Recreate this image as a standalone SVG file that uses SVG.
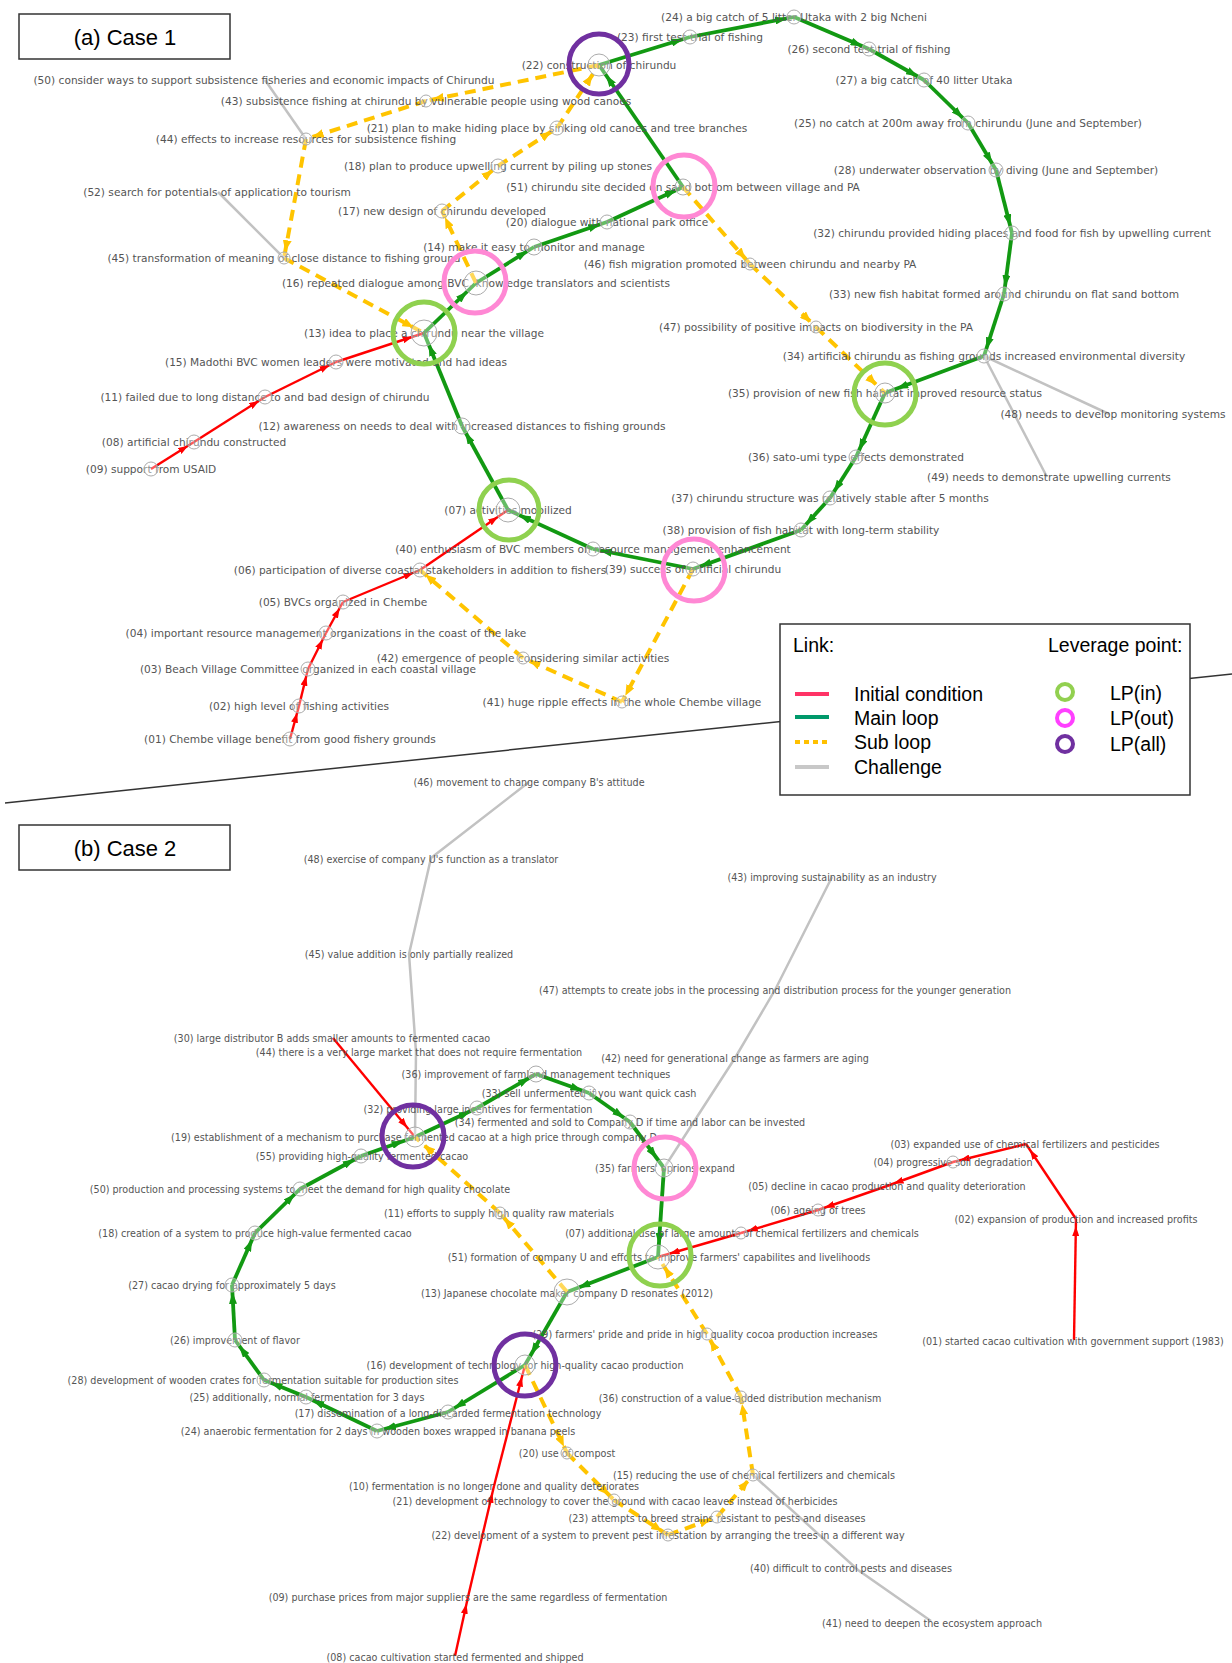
<svg xmlns="http://www.w3.org/2000/svg" width="1232" height="1663" viewBox="0 0 1232 1663">
<style>
.t1{font-family:"DejaVu Sans",sans-serif;font-size:10.6px;fill:#555;text-anchor:middle;dominant-baseline:central}
.t2{font-family:"DejaVu Sans",sans-serif;font-size:9.6px;fill:#555;text-anchor:middle;dominant-baseline:central}
.nd{fill:#fff;fill-opacity:.35;stroke:#ababab;stroke-width:1}
.red{stroke:#ff0000;stroke-width:2.4;fill:none;marker-end:url(#mr)}
.red.L{marker-end:url(#mrL)}
.grn{stroke:#129912;stroke-width:3.8;fill:none;marker-end:url(#mg)}
.grn.L{marker-end:url(#mgL)}
.yel{stroke:#ffc400;stroke-width:4;fill:none;stroke-dasharray:11 7;marker-end:url(#my)}
.yel.L{marker-end:url(#myL)}
.gry{stroke:#c2c2c2;stroke-width:2.5;fill:none}
.lpin{fill:none;stroke:#8fd14f;stroke-width:5}
.lpout{fill:none;stroke:#ff88d4;stroke-width:5}
.lpall{fill:none;stroke:#7030a0;stroke-width:5}
.ttl{font-family:"Liberation Sans",Arial,sans-serif;font-size:22px;fill:#000;text-anchor:middle}
.lg{font-family:"Liberation Sans",Arial,sans-serif;font-size:19.5px;fill:#000}
.box{fill:#fff;stroke:#333;stroke-width:1.5}
</style>
<defs>
<marker id="mg" markerUnits="userSpaceOnUse" markerWidth="12" markerHeight="8" refX="19" refY="4" orient="auto"><path d="M0,0 L12,4 L0,8 z" fill="#129912"/></marker>
<marker id="mgL" markerUnits="userSpaceOnUse" markerWidth="12" markerHeight="8" refX="24" refY="4" orient="auto"><path d="M0,0 L12,4 L0,8 z" fill="#129912"/></marker>
<marker id="mr" markerUnits="userSpaceOnUse" markerWidth="10" markerHeight="7" refX="17" refY="3.5" orient="auto"><path d="M0,0 L10,3.5 L0,7 z" fill="#ff0000"/></marker>
<marker id="mrL" markerUnits="userSpaceOnUse" markerWidth="10" markerHeight="7" refX="22" refY="3.5" orient="auto"><path d="M0,0 L10,3.5 L0,7 z" fill="#ff0000"/></marker>
<marker id="my" markerUnits="userSpaceOnUse" markerWidth="11" markerHeight="9" refX="18" refY="4.5" orient="auto"><path d="M0,0 L11,4.5 L0,9 z" fill="#ffc400"/></marker>
<marker id="myL" markerUnits="userSpaceOnUse" markerWidth="11" markerHeight="9" refX="23" refY="4.5" orient="auto"><path d="M0,0 L11,4.5 L0,9 z" fill="#ffc400"/></marker>
</defs>
<rect width="1232" height="1663" fill="#fff"/>

<!-- separator -->
<line x1="5" y1="803" x2="1232" y2="674" stroke="#333" stroke-width="1.5"/>

<!-- titles -->
<g id="title-a"><rect class="box" x="19" y="14" width="211" height="45"/><text class="ttl" x="125" y="45">(a) Case 1</text></g>
<g id="title-b"><rect class="box" x="19" y="825" width="211" height="45"/><text class="ttl" x="125" y="856">(b) Case 2</text></g>

<g id="connectors">
<!-- case 1 red -->
<path class="red" d="M151,469 L194,442"/>
<path class="red" d="M194,442 L265,397"/>
<path class="red" d="M265,397 L336,362"/>
<path class="red L" d="M336,362 L424,333"/>
<path class="red" d="M290,739 L299,706"/>
<path class="red" d="M299,706 L308,669"/>
<path class="red" d="M308,669 L326,633"/>
<path class="red" d="M326,633 L343,602"/>
<path class="red" d="M343,602 L420,570"/>
<path class="red L" d="M420,570 L508,510"/>
<!-- case 1 green -->
<path class="grn" d="M508,510 L462,426"/>
<path class="grn L" d="M462,426 L424,333"/>
<path class="grn L" d="M424,333 L476,283"/>
<path class="grn" d="M476,283 L534,247"/>
<path class="grn" d="M534,247 L607,222"/>
<path class="grn" d="M607,222 L683,187"/>
<path class="grn L" d="M683,187 L599,65"/>
<path class="grn" d="M599,65 L690,37"/>
<path class="grn" d="M690,37 L794,17"/>
<path class="grn" d="M794,17 L869,49"/>
<path class="grn" d="M869,49 L924,80"/>
<path class="grn" d="M924,80 L968,123"/>
<path class="grn" d="M968,123 L996,170"/>
<path class="grn" d="M996,170 L1012,233"/>
<path class="grn" d="M1012,233 L1004,294"/>
<path class="grn" d="M1004,294 L984,356"/>
<path class="grn L" d="M984,356 L885,393"/>
<path class="grn" d="M885,393 L856,457"/>
<path class="grn" d="M856,457 L830,498"/>
<path class="grn" d="M830,498 L801,530"/>
<path class="grn" d="M801,530 L693,569"/>
<path class="grn" d="M693,569 L593,549"/>
<path class="grn L" d="M593,549 L508,510"/>
<!-- case 1 yellow -->
<path class="yel" d="M476,283 L442,211"/>
<path class="yel" d="M442,211 L498,166"/>
<path class="yel" d="M498,166 L557,128"/>
<path class="yel L" d="M557,128 L599,65"/>
<path class="yel" d="M599,65 L426,101"/>
<path class="yel" d="M426,101 L306,139"/>
<path class="yel" d="M306,139 L284,258"/>
<path class="yel L" d="M284,258 L424,333"/>
<path class="yel" d="M683,187 L750,264"/>
<path class="yel" d="M750,264 L816,327"/>
<path class="yel L" d="M816,327 L885,393"/>
<path class="yel" d="M693,569 L622,702"/>
<path class="yel" d="M622,702 L523,658"/>
<path class="yel" d="M523,658 L420,570"/>
<!-- case 1 gray -->
<path class="gry" d="M265,80 L306,139"/>
<path class="gry" d="M218,192 L284,258"/>
<path class="gry" d="M984,356 L1109,414"/>
<path class="gry" d="M984,356 L1047,477"/>

<!-- case 2 red -->
<path class="red L" d="M333,1038 L415,1137"/>
<path class="red" d="M455,1656 L468,1597"/>
<path class="red" d="M468,1597 L494,1486"/>
<path class="red L" d="M494,1486 L525,1365"/>
<path class="red" d="M1074,1340 L1076,1219"/>
<path class="red" d="M1076,1219 L1026,1144"/>
<path class="red" d="M1026,1144 L953,1162"/>
<path class="red" d="M953,1162 L887,1186"/>
<path class="red" d="M887,1186 L818,1210"/>
<path class="red" d="M818,1210 L741,1233"/>
<path class="red L" d="M741,1233 L658,1257"/>
<!-- case 2 green -->
<path class="grn L" d="M567,1292 L525,1365"/>
<path class="grn" d="M525,1365 L448,1412"/>
<path class="grn" d="M448,1412 L377,1431"/>
<path class="grn" d="M377,1431 L306,1397"/>
<path class="grn" d="M306,1397 L264,1380"/>
<path class="grn" d="M264,1380 L235,1340"/>
<path class="grn" d="M235,1340 L232,1285"/>
<path class="grn" d="M232,1285 L255,1233"/>
<path class="grn" d="M255,1233 L300,1189"/>
<path class="grn" d="M300,1189 L361,1156"/>
<path class="grn L" d="M361,1156 L415,1137"/>
<path class="grn" d="M415,1137 L477,1108"/>
<path class="grn" d="M477,1108 L536,1074"/>
<path class="grn" d="M536,1074 L589,1093"/>
<path class="grn" d="M589,1093 L630,1122"/>
<path class="grn L" d="M630,1122 L664,1168"/>
<path class="grn L" d="M664,1168 L658,1257"/>
<path class="grn L" d="M658,1257 L567,1292"/>
<!-- case 2 yellow -->
<path class="yel" d="M567,1292 L500,1213"/>
<path class="yel L" d="M500,1213 L415,1137"/>
<path class="yel" d="M525,1365 L567,1453"/>
<path class="yel" d="M567,1453 L614,1500"/>
<path class="yel" d="M614,1500 L668,1535"/>
<path class="yel" d="M668,1535 L717,1517"/>
<path class="yel" d="M717,1517 L753,1475"/>
<path class="yel" d="M753,1475 L741,1397"/>
<path class="yel" d="M741,1397 L707,1334"/>
<path class="yel L" d="M707,1334 L658,1257"/>
<!-- case 2 gray -->
<path class="gry" d="M529,782 L431,858 L409,954 L416,1052 L415,1137"/>
<path class="gry" d="M832,877 L775,990 L735,1058 L664,1168"/>
<path class="gry" d="M753,1475 L858,1570 L931,1621"/>
</g>

<!-- case 1 nodes -->
<g id="c1-n01"><text class="t1" x="290" y="739">(01) Chembe village benefit from good fishery grounds</text><circle class="nd" cx="290" cy="739" r="7"/></g>
<g id="c1-n02"><text class="t1" x="299" y="706">(02) high level of fishing activities</text><circle class="nd" cx="299" cy="706" r="7"/></g>
<g id="c1-n03"><text class="t1" x="308" y="669">(03) Beach Village Committee organized in each coastal village</text><circle class="nd" cx="308" cy="669" r="7"/></g>
<g id="c1-n04"><text class="t1" x="326" y="633">(04) important resource management organizations in the coast of the lake</text><circle class="nd" cx="326" cy="633" r="7"/></g>
<g id="c1-n05"><text class="t1" x="343" y="602">(05) BVCs organized in Chembe</text><circle class="nd" cx="343" cy="602" r="7"/></g>
<g id="c1-n06"><text class="t1" x="420" y="570">(06) participation of diverse coastal stakeholders in addition to fishers</text><circle class="nd" cx="420" cy="570" r="7"/></g>
<g id="c1-n07"><text class="t1" x="508" y="510">(07) activities mobilized</text><circle class="nd" cx="508" cy="510" r="12"/></g>
<g id="c1-n08"><text class="t1" x="194" y="442">(08) artificial chirundu constructed</text><circle class="nd" cx="194" cy="442" r="7"/></g>
<g id="c1-n09"><text class="t1" x="151" y="469">(09) support from USAID</text><circle class="nd" cx="151" cy="469" r="7"/></g>
<g id="c1-n11"><text class="t1" x="265" y="397">(11) failed due to long distance to and bad design of chirundu</text><circle class="nd" cx="265" cy="397" r="7"/></g>
<g id="c1-n12"><text class="t1" x="462" y="426">(12) awareness on needs to deal with increased distances to fishing grounds</text><circle class="nd" cx="462" cy="426" r="8"/></g>
<g id="c1-n13"><text class="t1" x="424" y="333">(13) idea to place a chirundu near the village</text><circle class="nd" cx="424" cy="333" r="13"/></g>
<g id="c1-n14"><text class="t1" x="534" y="247">(14) make it easy to monitor and manage</text><circle class="nd" cx="534" cy="247" r="8"/></g>
<g id="c1-n15"><text class="t1" x="336" y="362">(15) Madothi BVC women leaders were motivated and had ideas</text><circle class="nd" cx="336" cy="362" r="7"/></g>
<g id="c1-n16"><text class="t1" x="476" y="283">(16) repeated dialogue among BVC, knowledge translators and scientists</text><circle class="nd" cx="476" cy="283" r="12"/></g>
<g id="c1-n17"><text class="t1" x="442" y="211">(17) new design of chirundu developed</text><circle class="nd" cx="442" cy="211" r="7"/></g>
<g id="c1-n18"><text class="t1" x="498" y="166">(18) plan to produce upwelling current by piling up stones</text><circle class="nd" cx="498" cy="166" r="7"/></g>
<g id="c1-n20"><text class="t1" x="607" y="222">(20) dialogue with national park office</text><circle class="nd" cx="607" cy="222" r="7"/></g>
<g id="c1-n21"><text class="t1" x="557" y="128">(21) plan to make hiding place by sinking old canoes and tree branches</text><circle class="nd" cx="557" cy="128" r="7"/></g>
<g id="c1-n22"><text class="t1" x="599" y="65">(22) construction of chirundu</text><circle class="nd" cx="599" cy="65" r="11"/></g>
<g id="c1-n23"><text class="t1" x="690" y="37">(23) first test trial of fishing</text><circle class="nd" cx="690" cy="37" r="7"/></g>
<g id="c1-n24"><text class="t1" x="794" y="17">(24) a big catch of 5 litter Utaka with 2 big Ncheni</text><circle class="nd" cx="794" cy="17" r="7"/></g>
<g id="c1-n25"><text class="t1" x="968" y="123">(25) no catch at 200m away from chirundu (June and September)</text><circle class="nd" cx="968" cy="123" r="7"/></g>
<g id="c1-n26"><text class="t1" x="869" y="49">(26) second test trial of fishing</text><circle class="nd" cx="869" cy="49" r="7"/></g>
<g id="c1-n27"><text class="t1" x="924" y="80">(27) a big catch of 40 litter Utaka</text><circle class="nd" cx="924" cy="80" r="7"/></g>
<g id="c1-n28"><text class="t1" x="996" y="170">(28) underwater observation by diving (June and September)</text><circle class="nd" cx="996" cy="170" r="7"/></g>
<g id="c1-n32"><text class="t1" x="1012" y="233">(32) chirundu provided hiding places and food for fish by upwelling current</text><circle class="nd" cx="1012" cy="233" r="7"/></g>
<g id="c1-n33"><text class="t1" x="1004" y="294">(33) new fish habitat formed around chirundu on flat sand bottom</text><circle class="nd" cx="1004" cy="294" r="7"/></g>
<g id="c1-n34"><text class="t1" x="984" y="356">(34) artificial chirundu as fishing grounds increased environmental diversity</text><circle class="nd" cx="984" cy="356" r="7"/></g>
<g id="c1-n35"><text class="t1" x="885" y="393">(35) provision of new fish habitat improved resource status</text><circle class="nd" cx="885" cy="393" r="10"/></g>
<g id="c1-n36"><text class="t1" x="856" y="457">(36) sato-umi type effects demonstrated</text><circle class="nd" cx="856" cy="457" r="7"/></g>
<g id="c1-n37"><text class="t1" x="830" y="498">(37) chirundu structure was relatively stable after 5 months</text><circle class="nd" cx="830" cy="498" r="7"/></g>
<g id="c1-n38"><text class="t1" x="801" y="530">(38) provision of fish habitat with long-term stability</text><circle class="nd" cx="801" cy="530" r="7"/></g>
<g id="c1-n39"><text class="t1" x="693" y="569">(39) success of artificial chirundu</text><circle class="nd" cx="693" cy="569" r="7"/></g>
<g id="c1-n40"><text class="t1" x="593" y="549">(40) enthusiasm of BVC members on resource management enhancement</text><circle class="nd" cx="593" cy="549" r="7"/></g>
<g id="c1-n41"><text class="t1" x="622" y="702">(41) huge ripple effects in the whole Chembe village</text><circle class="nd" cx="622" cy="702" r="6"/></g>
<g id="c1-n42"><text class="t1" x="523" y="658">(42) emergence of people considering similar activities</text><circle class="nd" cx="523" cy="658" r="6"/></g>
<g id="c1-n43"><text class="t1" x="426" y="101">(43) subsistence fishing at chirundu by vulnerable people using wood canoes</text><circle class="nd" cx="426" cy="101" r="6"/></g>
<g id="c1-n44"><text class="t1" x="306" y="139">(44) effects to increase resources for subsistence fishing</text><circle class="nd" cx="306" cy="139" r="6"/></g>
<g id="c1-n45"><text class="t1" x="284" y="258">(45) transformation of meaning of close distance to fishing ground</text><circle class="nd" cx="284" cy="258" r="6"/></g>
<g id="c1-n46"><text class="t1" x="750" y="264">(46) fish migration promoted between chirundu and nearby PA</text><circle class="nd" cx="750" cy="264" r="6"/></g>
<g id="c1-n47"><text class="t1" x="816" y="327">(47) possibility of positive impacts on biodiversity in the PA</text><circle class="nd" cx="816" cy="327" r="6"/></g>
<g id="c1-n48"><text class="t1" x="1113" y="414">(48) needs to develop monitoring systems</text></g>
<g id="c1-n49"><text class="t1" x="1049" y="477">(49) needs to demonstrate upwelling currents</text></g>
<g id="c1-n50"><text class="t1" x="264" y="80">(50) consider ways to support subsistence fisheries and economic impacts of Chirundu</text></g>
<g id="c1-n51"><text class="t1" x="683" y="187">(51) chirundu site decided on sand bottom between village and PA</text><circle class="nd" cx="683" cy="187" r="8"/></g>
<g id="c1-n52"><text class="t1" x="217" y="192">(52) search for potentials of application to tourism</text></g>

<!-- case 2 nodes -->
<g id="c2-n01"><text class="t2" x="1073" y="1341">(01) started cacao cultivation with government support (1983)</text></g>
<g id="c2-n02"><text class="t2" x="1076" y="1219">(02) expansion of production and increased profits</text></g>
<g id="c2-n03"><text class="t2" x="1025" y="1144">(03) expanded use of chemical fertilizers and pesticides</text></g>
<g id="c2-n04"><text class="t2" x="953" y="1162">(04) progressive soil degradation</text><circle class="nd" cx="953" cy="1162" r="6"/></g>
<g id="c2-n05"><text class="t2" x="887" y="1186">(05) decline in cacao production and quality deterioration</text></g>
<g id="c2-n06"><text class="t2" x="818" y="1210">(06) ageing of trees</text><circle class="nd" cx="818" cy="1210" r="6"/></g>
<g id="c2-n07"><text class="t2" x="742" y="1233">(07) additional use of large amounts of chemical fertilizers and chemicals</text><circle class="nd" cx="741" cy="1233" r="6"/></g>
<g id="c2-n08"><text class="t2" x="455" y="1657">(08) cacao cultivation started fermented and shipped</text></g>
<g id="c2-n09"><text class="t2" x="468" y="1597">(09) purchase prices from major suppliers are the same regardless of fermentation</text></g>
<g id="c2-n10"><text class="t2" x="494" y="1486">(10) fermentation is no longer done and quality deteriorates</text></g>
<g id="c2-n11"><text class="t2" x="499" y="1213">(11) efforts to supply high quality raw materials</text><circle class="nd" cx="500" cy="1213" r="6"/></g>
<g id="c2-n13"><text class="t2" x="567" y="1293">(13) Japanese chocolate maker company D resonates (2012)</text><circle class="nd" cx="567" cy="1292" r="13"/></g>
<g id="c2-n15"><text class="t2" x="754" y="1475">(15) reducing the use of chemical fertilizers and chemicals</text><circle class="nd" cx="753" cy="1475" r="6"/></g>
<g id="c2-n16"><text class="t2" x="525" y="1365">(16) development of technology for high-quality cacao production</text><circle class="nd" cx="525" cy="1365" r="10"/></g>
<g id="c2-n17"><text class="t2" x="448" y="1413">(17) dissemination of a long-discarded fermentation technology</text><circle class="nd" cx="448" cy="1412" r="7"/></g>
<g id="c2-n18"><text class="t2" x="255" y="1233">(18) creation of a system to produce high-value fermented cacao</text><circle class="nd" cx="255" cy="1233" r="7"/></g>
<g id="c2-n19"><text class="t2" x="414" y="1137">(19) establishment of a mechanism to purchase fermented cacao at a high price through company D</text><circle class="nd" cx="415" cy="1137" r="10"/></g>
<g id="c2-n20"><text class="t2" x="567" y="1453">(20) use of compost</text><circle class="nd" cx="567" cy="1453" r="6"/></g>
<g id="c2-n21"><text class="t2" x="615" y="1501">(21) development of technology to cover the ground with cacao leaves instead of herbicides</text><circle class="nd" cx="614" cy="1500" r="6"/></g>
<g id="c2-n22"><text class="t2" x="668" y="1535">(22) development of a system to prevent pest infestation by arranging the trees in a different way</text><circle class="nd" cx="668" cy="1535" r="6"/></g>
<g id="c2-n23"><text class="t2" x="717" y="1518">(23) attempts to breed strains resistant to pests and diseases</text><circle class="nd" cx="717" cy="1517" r="6"/></g>
<g id="c2-n24"><text class="t2" x="378" y="1431">(24) anaerobic fermentation for 2 days in wooden boxes wrapped in banana peels</text><circle class="nd" cx="377" cy="1431" r="7"/></g>
<g id="c2-n25"><text class="t2" x="307" y="1397">(25) additionally, normal fermentation for 3 days</text><circle class="nd" cx="306" cy="1397" r="7"/></g>
<g id="c2-n26"><text class="t2" x="235" y="1340">(26) improvement of flavor</text><circle class="nd" cx="235" cy="1340" r="7"/></g>
<g id="c2-n27"><text class="t2" x="232" y="1285">(27) cacao drying for approximately 5 days</text><circle class="nd" cx="232" cy="1285" r="7"/></g>
<g id="c2-n28"><text class="t2" x="263" y="1380">(28) development of wooden crates for fermentation suitable for production sites</text><circle class="nd" cx="264" cy="1380" r="7"/></g>
<g id="c2-n29"><text class="t2" x="705" y="1334">(29) farmers' pride and pride in high quality cocoa production increases</text><circle class="nd" cx="707" cy="1334" r="6"/></g>
<g id="c2-n30"><text class="t2" x="332" y="1038">(30) large distributor B adds smaller amounts to fermented cacao</text></g>
<g id="c2-n32"><text class="t2" x="478" y="1109">(32) providing large incentives for fermentation</text><circle class="nd" cx="477" cy="1108" r="7"/></g>
<g id="c2-n33"><text class="t2" x="589" y="1093">(33) sell unfermented if you want quick cash</text><circle class="nd" cx="589" cy="1093" r="7"/></g>
<g id="c2-n34"><text class="t2" x="630" y="1122">(34) fermented and sold to Company D if time and labor can be invested</text><circle class="nd" cx="630" cy="1122" r="7"/></g>
<g id="c2-n35"><text class="t2" x="665" y="1168">(35) farmers' oprions expand</text><circle class="nd" cx="664" cy="1168" r="9"/></g>
<g id="c2-n36"><text class="t2" x="536" y="1074">(36) improvement of farmland management techniques</text><circle class="nd" cx="536" cy="1074" r="8"/></g>
<g id="c2-n36b"><text class="t2" x="740" y="1398">(36) construction of a value-added distribution mechanism</text><circle class="nd" cx="741" cy="1397" r="6"/></g>
<g id="c2-n40"><text class="t2" x="851" y="1568">(40) difficult to control pests and diseases</text></g>
<g id="c2-n41"><text class="t2" x="932" y="1623">(41) need to deepen the ecosystem approach</text></g>
<g id="c2-n42"><text class="t2" x="735" y="1058">(42) need for generational change as farmers are aging</text></g>
<g id="c2-n43"><text class="t2" x="832" y="877">(43) improving sustainability as an industry</text></g>
<g id="c2-n44"><text class="t2" x="419" y="1052">(44) there is a very large market that does not require fermentation</text></g>
<g id="c2-n45"><text class="t2" x="409" y="954">(45) value addition is only partially realized</text></g>
<g id="c2-n46"><text class="t2" x="529" y="782">(46) movement to change company B's attitude</text></g>
<g id="c2-n47"><text class="t2" x="775" y="990">(47) attempts to create jobs in the processing and distribution process for the younger generation</text></g>
<g id="c2-n48"><text class="t2" x="431" y="859">(48) exercise of company U's function as a translator</text></g>
<g id="c2-n50"><text class="t2" x="300" y="1189">(50) production and processing systems to meet the demand for high quality chocolate</text><circle class="nd" cx="300" cy="1189" r="7"/></g>
<g id="c2-n51"><text class="t2" x="659" y="1257">(51) formation of company U and efforts to improve farmers' capabilites and livelihoods</text><circle class="nd" cx="658" cy="1257" r="12"/></g>
<g id="c2-n55"><text class="t2" x="362" y="1156">(55) providing high-quality fermented cacao</text><circle class="nd" cx="361" cy="1156" r="7"/></g>

<g id="leverage-points">
<circle class="lpall" cx="599" cy="64" r="30"/>
<circle class="lpout" cx="684" cy="186" r="31"/>
<circle class="lpout" cx="475" cy="282" r="31"/>
<circle class="lpin" cx="424" cy="333" r="31"/>
<circle class="lpin" cx="509" cy="510" r="30"/>
<circle class="lpin" cx="885" cy="394" r="31"/>
<circle class="lpout" cx="694" cy="570" r="31"/>
<circle class="lpall" cx="413" cy="1136" r="31"/>
<circle class="lpout" cx="665" cy="1168" r="31"/>
<circle class="lpin" cx="660" cy="1255" r="31"/>
<circle class="lpall" cx="525" cy="1365" r="31"/>
</g>

<g id="legend">
<rect class="box" x="780" y="624" width="410" height="171"/>
<text class="lg" x="793" y="652">Link:</text>
<text class="lg" x="1048" y="652">Leverage point:</text>
<line x1="795" y1="694" x2="829" y2="694" stroke="#ff3366" stroke-width="4"/>
<line x1="795" y1="717" x2="829" y2="717" stroke="#00996b" stroke-width="4"/>
<line x1="795" y1="742" x2="829" y2="742" stroke="#ffc000" stroke-width="4" stroke-dasharray="5 4"/>
<line x1="795" y1="767" x2="829" y2="767" stroke="#c8c8c8" stroke-width="4"/>
<text class="lg" x="854" y="701">Initial condition</text>
<text class="lg" x="854" y="725">Main loop</text>
<text class="lg" x="854" y="749">Sub loop</text>
<text class="lg" x="854" y="774">Challenge</text>
<circle cx="1065" cy="692" r="8" fill="none" stroke="#92d050" stroke-width="4"/>
<circle cx="1065" cy="718" r="8" fill="none" stroke="#ff40ff" stroke-width="4"/>
<circle cx="1065" cy="744" r="8" fill="none" stroke="#7030a0" stroke-width="4"/>
<text class="lg" x="1110" y="700">LP(in)</text>
<text class="lg" x="1110" y="725">LP(out)</text>
<text class="lg" x="1110" y="751">LP(all)</text>
</g>
</svg>
